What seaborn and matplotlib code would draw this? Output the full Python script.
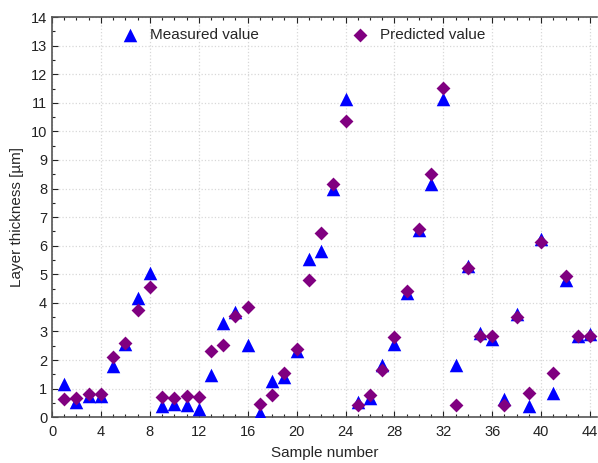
import numpy as np
import pandas as pd
import matplotlib
matplotlib.use('Agg')
import matplotlib.pyplot as plt
import seaborn as sns
from matplotlib.ticker import MultipleLocator

sample = list(range(1, 45))
measured = [1.17, 0.53, 0.74, 0.74, 1.79, 2.57, 4.18, 5.03, 0.39, 0.47,
            0.41, 0.27, 1.46, 3.30, 3.68, 2.51, 0.14, 1.25, 1.40, 2.32,
            5.52, 5.82, 7.97, 11.12, 0.53, 0.67, 1.84, 2.55, 4.33, 6.55,
            8.17, 11.12, 1.84, 5.28, 2.96, 2.73, 0.62, 3.60, 0.39, 6.24,
            0.85, 4.80, 2.83, 2.92]
predicted = [0.64, 0.68, 0.80, 0.80, 2.10, 2.60, 3.74, 4.54, 0.70, 0.67,
             0.74, 0.70, 2.32, 2.54, 3.54, 3.86, 0.47, 0.76, 1.54, 2.37,
             4.80, 6.43, 8.17, 10.36, 0.44, 0.78, 1.64, 2.81, 4.41, 6.58,
             8.52, 11.52, 0.41, 5.23, 2.83, 2.83, 0.44, 3.51, 0.84, 6.12,
             1.54, 4.95, 2.83, 2.83]

df_meas = pd.DataFrame({'Sample number': sample, 'value': measured})
df_pred = pd.DataFrame({'Sample number': sample, 'value': predicted})

sns.set_style('white')
plt.rcParams['font.family'] = ['Liberation Sans', 'DejaVu Sans']

fig = plt.figure(figsize=(5.98, 4.63), dpi=100)
ax = fig.add_axes([0.087, 0.099, 0.912, 0.864])

# triangles first, diamonds drawn on top
sns.scatterplot(data=df_meas, x='Sample number', y='value', marker='^', color='#0000ff',
                s=95, linewidth=0, ax=ax, zorder=3, label='Measured value')
sns.scatterplot(data=df_pred, x='Sample number', y='value', marker='D', color='#800080',
                s=50, linewidth=0, ax=ax, zorder=4, label='Predicted value')

ax.set_xlim(0, 44.6)
ax.set_ylim(0, 14)
ax.xaxis.set_major_locator(MultipleLocator(4))
ax.xaxis.set_minor_locator(MultipleLocator(1))
ax.yaxis.set_major_locator(MultipleLocator(1))
ax.yaxis.set_minor_locator(MultipleLocator(0.5))
ax.tick_params(which='both', direction='in', top=True, bottom=True, left=True, right=False,
               labelsize=10.5, colors='#222222')
ax.tick_params(which='major', length=4, width=0.8)
ax.tick_params(which='minor', length=2.5, width=0.8)
ax.tick_params(axis='x', which='major', pad=6)
ax.grid(True, which='major', linestyle=':', color='#d8d8d8', linewidth=0.9)
for side in ['left', 'bottom', 'top']:
    ax.spines[side].set_color('#555555')
    ax.spines[side].set_linewidth(1.2)
ax.spines['right'].set_visible(False)

ax.set_xlabel('Sample number', fontsize=11, labelpad=5)
ax.set_ylabel('Layer thickness [µm]', fontsize=11, labelpad=5)

ax.legend(loc='upper left', bbox_to_anchor=(0.09, 1.008), ncol=2,
          frameon=False, fontsize=11, columnspacing=5.6, handletextpad=0.3)

fig.savefig('out.png', dpi=100)
